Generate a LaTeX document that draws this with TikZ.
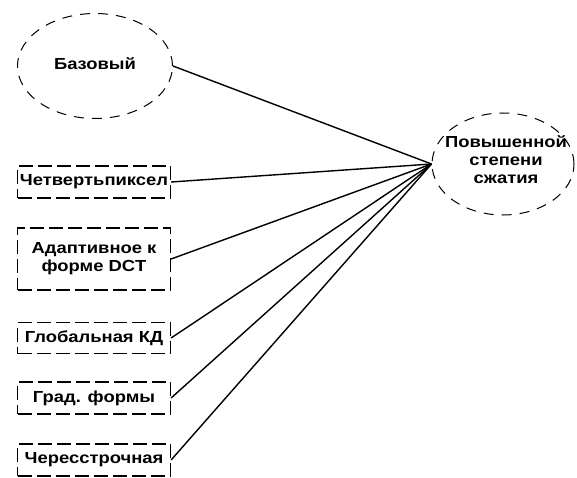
\documentclass[tikz,border=0pt]{standalone}
\usepackage{fontspec}
\setmainfont{Liberation Sans}[FakeStretch=1.15]
\usetikzlibrary{shapes.geometric}
\begin{document}
\begin{tikzpicture}[x=1pt,y=-1pt,
  lbl/.style={font=\fontsize{16}{18}\selectfont\bfseries, align=center, inner sep=0pt},
  boxframe/.style={draw, line width=1.2pt, dash pattern=on 14pt off 5pt},
  ovalframe/.style={draw, ellipse, line width=1pt, dash pattern=on 10pt off 8pt},
  link/.style={draw, line width=1.4pt}]
\useasboundingbox (0,0) rectangle (577,478);
% ellipses
\node[ovalframe, minimum width=155pt, minimum height=105pt] (base) at (95,66) {};
\node[lbl] at (95,64) {Базовый};
\node[ovalframe, minimum width=142pt, minimum height=102pt] (goal) at (503,164) {};
\node[lbl] at (506,160) {Повышенной\\степени\\сжатия};
% boxes
\node[boxframe, minimum width=153pt, minimum height=32pt] (b1) at (94,182) {};
\node[lbl] at (94,182) {Четвертьпиксел};
\node[boxframe, minimum width=153pt, minimum height=62pt] (b2) at (94,259) {};
\node[lbl] at (94,259) {Адаптивное к\\форме DCT};
\node[boxframe, minimum width=153pt, minimum height=31pt] (b3) at (94,338) {};
\node[lbl] at (94,338) {Глобальная КД};
\node[boxframe, minimum width=153pt, minimum height=32pt] (b4) at (94,398) {};
\node[lbl] at (94,398) {Град. формы};
\node[boxframe, minimum width=153pt, minimum height=32pt] (b5) at (94,460) {};
\node[lbl] at (94,460) {Чересстрочная};
% connectors
\foreach \n in {base,b1,b2,b3,b4,b5}
  \draw[link] (\n.east) -- (goal.west);
\end{tikzpicture}
\end{document}
